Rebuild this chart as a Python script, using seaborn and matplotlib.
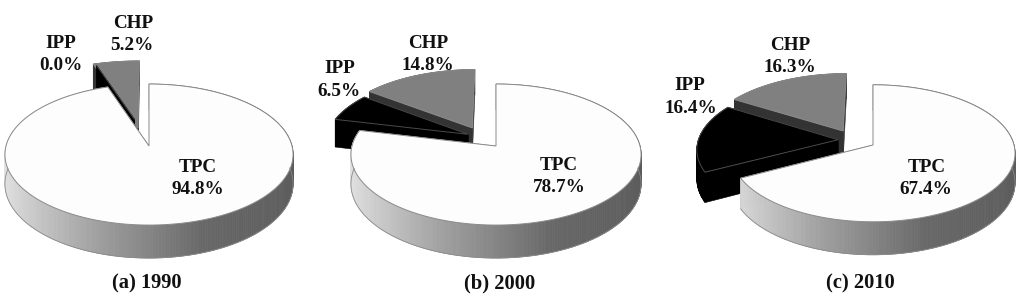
import numpy as np
import matplotlib
matplotlib.use("Agg")
import matplotlib.pyplot as plt
from matplotlib.patches import Polygon
import seaborn as sns

# shares in percent, clockwise from 12 o'clock
slices = ["TPC", "IPP", "CHP"]
values_1990 = [94.8, 0.0, 5.2]
values_2000 = [78.7, 6.5, 14.8]
values_2010 = [67.4, 16.4, 16.3]
captions = ["(a) 1990", "(b) 2000", "(c) 2010"]

# how far each slice is pulled out of the pie
explode_1990 = [0, 0.42, 0.27]
explode_2000 = [0, 0.24, 0.30]
explode_2010 = [0, 0.27, 0.29]
# the pull in the original is not quite radial, small extra shift per slice
nudge_1990 = [(0, 0), (0.03, 0), (-0.035, 0)]
nudge_2000 = [(0, 0), (0.02, 0.07), (-0.035, 0)]
nudge_2010 = [(0, 0), (0.02, 0.07), (-0.075, -0.04)]
# the 1990 CHP slice is drawn a bit longer than the rest
radius_1990 = [1, 1, 1.17]
radius_other = [1, 1, 1]

sns.set_theme(style="white")
plt.rcParams['font.family'] = ['Liberation Serif', 'DejaVu Serif']

top_colors = ["#fdfdfd", "#000000", "#808080"]
face_colors = ["#9a9a9a", "#000000", "#333333"]
edge_colors = ["#8a8a8a", "#4a4a4a", "#8a8a8a"]
wall_ramp = sns.blend_palette(["#e2e2e2", "#a0a0a0", "#686868", "#5c5c5c"], n_colors=200)

W, H = 1024, 302
fig = plt.figure(figsize=(W / 100, H / 100), dpi=100, facecolor="white")

# perspective of the disc, all in pixels: a/b radii, P tilt, DEPTH height of the side wall
P = 0.121
DEPTH = 29


def project(x, y, a, b, z=0.0):
    d = 1 + P * y
    return np.column_stack([b * x / d, (a * y - DEPTH * z) / d])


def draw_slice(ax, w, i, a, b):
    cx, cy = w.center
    t = np.radians(np.linspace(w.theta1, w.theta2, max(int(w.theta2 - w.theta1), 2)))
    rx = cx + w.r * np.cos(t)
    ry = cy + w.r * np.sin(t)

    # flat cut faces first
    for k in (0, -1):
        x = np.array([cx, rx[k], rx[k], cx])
        y = np.array([cy, ry[k], ry[k], cy])
        z = np.array([0, 0, 1, 1])
        pts = np.vstack([project(x[j], y[j], a, b, z[j]) for j in range(4)])
        ax.add_patch(Polygon(pts, closed=True, fc=face_colors[i], ec=face_colors[i], lw=0.4))

    # outer wall, shaded from left to right for the big slice
    top = project(rx, ry, a, b)
    low = project(rx, ry, a, b, 1.0)
    for k in range(len(t) - 1):
        if i == 0:
            c = wall_ramp[min(int((rx[k] + 1) / 2 * 200), 199)]
        else:
            c = face_colors[i]
        quad = np.vstack([top[k], top[k + 1], low[k + 1], low[k]])
        ax.add_patch(Polygon(quad, closed=True, fc=c, ec=c, lw=0.5))
    if i == 0:
        front = ry < 0.1
        ax.plot(low[front, 0], low[front, 1], color="#8a8a8a", lw=0.6)

    # top of the slice
    outline = np.vstack([project(np.array([cx]), np.array([cy]), a, b), top])
    ax.add_patch(Polygon(outline, closed=True, fc=top_colors[i], ec=edge_colors[i], lw=0.7))


panels = [
    (values_1990, explode_1990, nudge_1990, radius_1990, 149, 146, 69.5, 143),
    (values_2000, explode_2000, nudge_2000, radius_other, 496, 146, 69.5, 144),
    (values_2010, explode_2010, nudge_2010, radius_other, 873, 145, 67.5, 141),
]

for vals, expl, nudge, radii, px, py, a, b in panels:
    ax = fig.add_axes([0, 0, 1, 1])
    ax.patch.set_alpha(0)
    wedges, _ = ax.pie(vals, explode=expl, labels=None, startangle=90, counterclock=False, radius=1)
    for w, n, r in zip(wedges, nudge, radii):
        w.set_visible(False)
        w.set_center((w.center[0] + n[0], w.center[1] + n[1]))
        w.set_radius(r)
    # back to front
    for i in [2, 1, 0]:
        draw_slice(ax, wedges[i], i, a, b)
    ax.set_aspect("auto")
    ax.set_xlim(-px, W - px)
    ax.set_ylim(py - H, py)
    ax.axis("off")


def label(x, y, s, size=13.8):
    fig.text(x / W, 1 - y / H, s, ha="center", va="center", fontsize=size,
             fontweight="bold", color="#111111")


label(61, 43, slices[1])
label(61, 65, "%.1f%%" % values_1990[1])
label(133, 23, slices[2])
label(132, 46, "%.1f%%" % values_1990[2])
label(198, 167, slices[0])
label(198, 189, "%.1f%%" % values_1990[0])
label(147, 283, captions[0], 14.8)

label(340, 69, slices[1])
label(339, 91, "%.1f%%" % values_2000[1])
label(428, 43, slices[2])
label(428, 65, "%.1f%%" % values_2000[2])
label(559, 166, slices[0])
label(559, 188, "%.1f%%" % values_2000[0])
label(500, 283, captions[1], 14.8)

label(690, 85, slices[1])
label(691, 108, "%.1f%%" % values_2010[1])
label(790, 45, slices[2])
label(790, 67, "%.1f%%" % values_2010[2])
label(927, 167, slices[0])
label(926, 189, "%.1f%%" % values_2010[0])
label(860, 283, captions[2], 14.8)

fig.savefig("out.png", dpi=100)
